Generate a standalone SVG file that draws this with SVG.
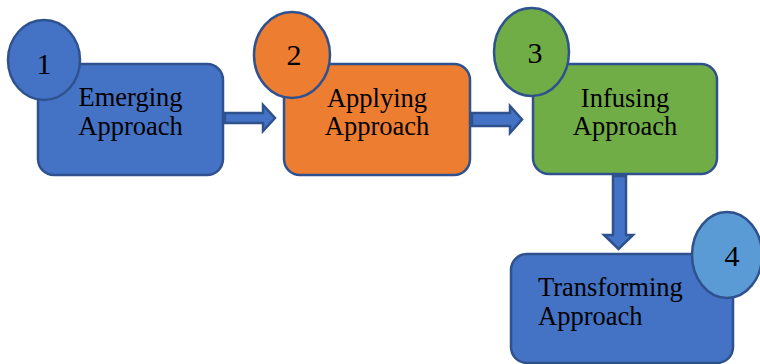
<svg xmlns="http://www.w3.org/2000/svg" width="760" height="364" viewBox="0 0 760 364">
<style>
.sh{stroke:#2F528F;stroke-width:2.5}
.lbl{font-family:"Liberation Serif","Times New Roman",serif;font-size:26.5px;fill:#000}
.num{font-family:"Liberation Serif","Times New Roman",serif;font-size:30px;fill:#000;text-anchor:middle}
.c{text-anchor:middle}
</style>
<rect width="760" height="364" fill="#fff"/>
<g id="connectors" class="sh" fill="#4472C4">
<polygon points="225,113 263,113 263,105 275,118 263,131 263,123 225,123"/>
<polygon points="472,113 510,113 510,106 522,119.5 510,133 510,126 472,126"/>
<polygon points="613,176 626,176 626,235 633,235 618.5,249 604,235 613,235"/>
</g>
<g id="node1">
<rect class="sh" x="38" y="64" width="185" height="111" rx="16" fill="#4472C4"/>
<ellipse class="sh" cx="44" cy="60" rx="36" ry="40" fill="#4472C4"/>
<text class="num" x="44" y="74">1</text>
<text class="lbl c" x="130.5" y="106">Emerging</text>
<text class="lbl c" x="130.5" y="135">Approach</text>
</g>
<g id="node2">
<rect class="sh" x="284" y="64" width="186" height="111" rx="16" fill="#ED7D31"/>
<ellipse class="sh" cx="292" cy="55" rx="38" ry="43" fill="#ED7D31"/>
<text class="num" x="294" y="65">2</text>
<text class="lbl c" x="377" y="107">Applying</text>
<text class="lbl c" x="377" y="135">Approach</text>
</g>
<g id="node3">
<rect class="sh" x="533" y="64" width="184" height="110" rx="16" fill="#70AD47"/>
<ellipse class="sh" cx="531.5" cy="52" rx="37.5" ry="44" fill="#70AD47"/>
<text class="num" x="535" y="63">3</text>
<text class="lbl c" x="625" y="107">Infusing</text>
<text class="lbl c" x="625" y="135">Approach</text>
</g>
<g id="node4">
<rect class="sh" x="511" y="254" width="222" height="109" rx="16" fill="#4472C4"/>
<ellipse class="sh" cx="727" cy="255" rx="35" ry="43" fill="#5B9BD5"/>
<text class="num" x="732" y="266">4</text>
<text class="lbl" x="538" y="296">Transforming</text>
<text class="lbl" x="538" y="325">Approach</text>
</g>
</svg>
